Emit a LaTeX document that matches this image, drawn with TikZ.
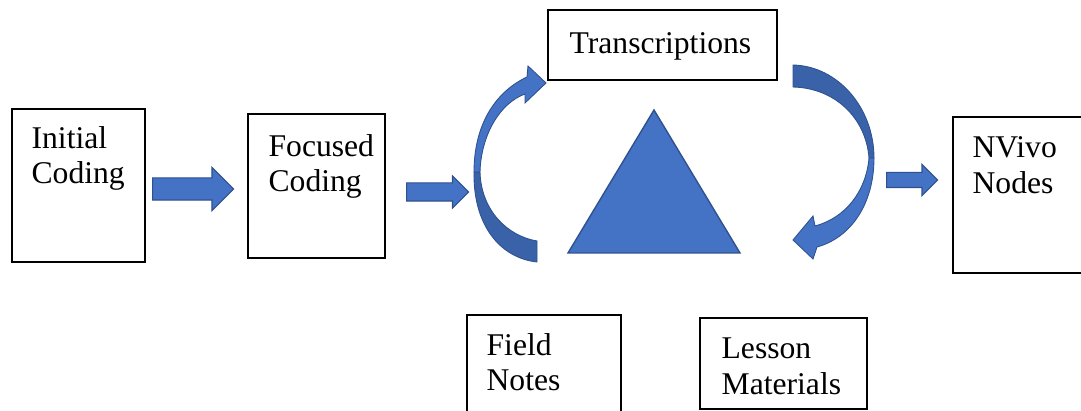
\documentclass[tikz,border=0pt]{standalone}
\usepackage{fontspec}
\setmainfont{Liberation Serif}
\usetikzlibrary{fit,calc,shapes.arrows}

\definecolor{shapeblue}{HTML}{4472C4}
\definecolor{shapeedge}{HTML}{2F528F}
\definecolor{shapedark}{HTML}{3A62A8}

\tikzset{
  box/.style={draw=black, line width=0.8pt, inner sep=0pt},
  boxtext/.style={anchor=north west, inner sep=0pt, align=left,
    font=\fontsize{18}{20.4}\selectfont},
  blockarrow/.style={single arrow, fill=shapeblue, draw=shapeedge,
    line width=0.6pt, inner xsep=0pt, anchor=tail},
  bandlight/.style={fill=shapeblue, draw=shapeedge, line width=0.5pt},
  banddark/.style={fill=shapedark, draw=shapeedge, line width=0.5pt}
}

\begin{document}
\begin{tikzpicture}[x=0.02cm, y=-0.02cm]
    \useasboundingbox (0,0) rectangle (1081,411);

    % Boxes
    \node[box, fit={(12,109) (145,262)}] (initial) {};
    \node[box, fit={(248,114) (385,258)}] (focused) {};
    \node[box, fit={(548,10) (777,80)}] (transcr) {};
    \node[box, fit={(953,117) (1095,273)}] (nvivo) {};
    \node[box, fit={(467,315) (621,425)}] (field) {};
    \node[box, fit={(700,318) (867,409)}] (lesson) {};

    % Box labels
    \node[boxtext] (initialtxt) at ($(initial.north west)+(20,17.5)$) {Initial\\Coding};
    \node[boxtext] (focusedtxt) at ($(focused.north west)+(21,20.5)$) {Focused\\Coding};
    \node[boxtext] (transcrtxt) at ($(transcr.north west)+(22,22.5)$) {Transcriptions};
    \node[boxtext] (nvivotxt) at ($(nvivo.north west)+(20,20)$) {NVivo\\Nodes};
    \node[boxtext] (fieldtxt) at ($(field.north west)+(20,18.5)$) {Field\\Notes};
    \node[boxtext] (lessontxt) at ($(lesson.north west)+(22,20)$) {Lesson\\Materials};

    % Block arrows
    \node[blockarrow, minimum height=1.62cm, inner ysep=0.21cm,
          single arrow head extend=0.21cm] (arrowa) at (152,189) {};
    \node[blockarrow, minimum height=1.24cm, inner ysep=0.17cm,
          single arrow head extend=0.14cm] (arrowb) at (406,192) {};
    \node[blockarrow, minimum height=1.02cm, inner ysep=0.14cm,
          single arrow head extend=0.16cm] (arrowc) at (886,180) {};

    % Triangle
    \filldraw[fill=shapeblue, draw=shapeedge, line width=0.8pt]
        (654,110) -- (740,253) -- (568,253) -- cycle;

    % Left curved arrow (up to Transcriptions)
    \filldraw[banddark]
        (474,172) .. controls (473,225) and (500,258) .. (537,262)
        -- (537,241)
        .. controls (507,236) and (481,210) .. (480,172) -- cycle;
    \filldraw[bandlight]
        (474,172) .. controls (474,125) and (495,92) .. (527,77)
        -- (528,66) -- (546,83) -- (525,103) -- (525,94)
        .. controls (500,103) and (481,135) .. (480,172) -- cycle;

    % Right curved arrow (down from Transcriptions)
    \filldraw[banddark]
        (793,65) .. controls (838,66) and (874,108) .. (874,158)
        -- (869,158)
        .. controls (866,118) and (835,88) .. (793,87) -- cycle;
    \filldraw[bandlight]
        (874,158) .. controls (874,205) and (850,238) .. (817,247)
        -- (813,259) -- (793,240) -- (813,216) -- (815,226)
        .. controls (845,218) and (866,192) .. (869,158) -- cycle;
\end{tikzpicture}
\end{document}
